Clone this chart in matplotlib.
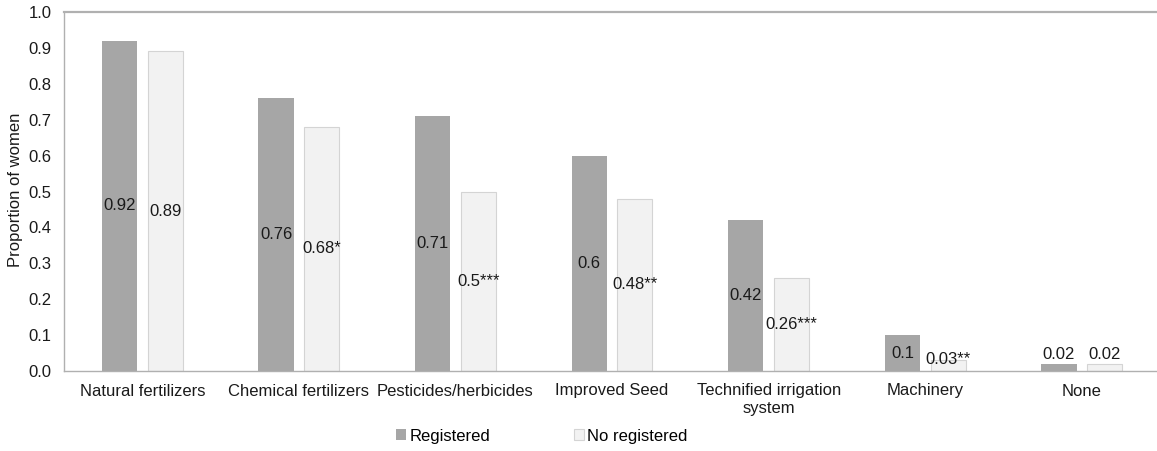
import matplotlib
matplotlib.use("Agg")
import matplotlib.pyplot as plt
import numpy as np

plt.rcParams['font.family'] = ['Liberation Sans', 'DejaVu Sans']

categories = ["Natural fertilizers", "Chemical fertilizers", "Pesticides/herbicides",
              "Improved Seed", "Technified irrigation\nsystem", "Machinery", "None"]
registered = [0.92, 0.76, 0.71, 0.60, 0.42, 0.10, 0.02]
no_registered = [0.89, 0.68, 0.50, 0.48, 0.26, 0.03, 0.02]
reg_labels = ["0.92", "0.76", "0.71", "0.6", "0.42", "0.1", "0.02"]
noreg_labels = ["0.89", "0.68*", "0.5***", "0.48**", "0.26***", "0.03**", "0.02"]

W, H = 1157, 451
fig = plt.figure(figsize=(W / 100, H / 100), dpi=100)
ax = fig.add_axes([64 / W, 1 - 371 / H, 1 - 64 / W, (371 - 12) / H])

x = np.arange(len(categories))
bw = 0.224
off = 0.146
b1 = ax.bar(x - off, registered, bw, color='#a6a6a6', label='Registered')
b2 = ax.bar(x + off, no_registered, bw, color='#f2f2f2', edgecolor='#d4d4d4',
            linewidth=0.8, label='No registered')

fs = 12
for xs, vals, labs in [(x - off, registered, reg_labels), (x + off, no_registered, noreg_labels)]:
    for xi, v, t in zip(xs, vals, labs):
        if v < 0.025:
            ax.text(xi, v + 0.004, t, ha='center', va='bottom', fontsize=fs, color='#1a1a1a')
        else:
            ax.text(xi, max(v / 2, 0.033), t, ha='center', va='center', fontsize=fs, color='#1a1a1a')

ax.set_xlim(-0.5, 6.48)
ax.set_ylim(0, 1.0)
ax.set_yticks(np.arange(0, 1.01, 0.1))
ax.set_yticklabels([f"{v:.1f}" for v in np.arange(0, 1.01, 0.1)])
ax.set_xticks(x)
ax.set_xticklabels(categories)
ax.tick_params(axis='both', length=0, labelsize=fs, colors='#1a1a1a')
ax.tick_params(axis='x', pad=9)
ax.tick_params(axis='y', pad=9)

for s in ['top', 'left', 'bottom']:
    ax.spines[s].set_color('#b0b0b0')
ax.spines['top'].set_linewidth(1.6)
ax.spines['left'].set_linewidth(1.0)
ax.spines['bottom'].set_linewidth(1.0)
ax.spines['right'].set_visible(False)

fig.text(16 / W, 1 - 190 / H, "Proportion of women", rotation=90, ha='center', va='center',
         fontsize=fs, color='#1a1a1a')

fig.legend(handles=[b1, b2], loc='center', bbox_to_anchor=(542 / W, 1 - 436 / H),
           ncol=2, frameon=False, fontsize=fs, handlelength=0.6, handleheight=0.6,
           handletextpad=0.2, columnspacing=5.0)

fig.savefig("out.png", dpi=100)
